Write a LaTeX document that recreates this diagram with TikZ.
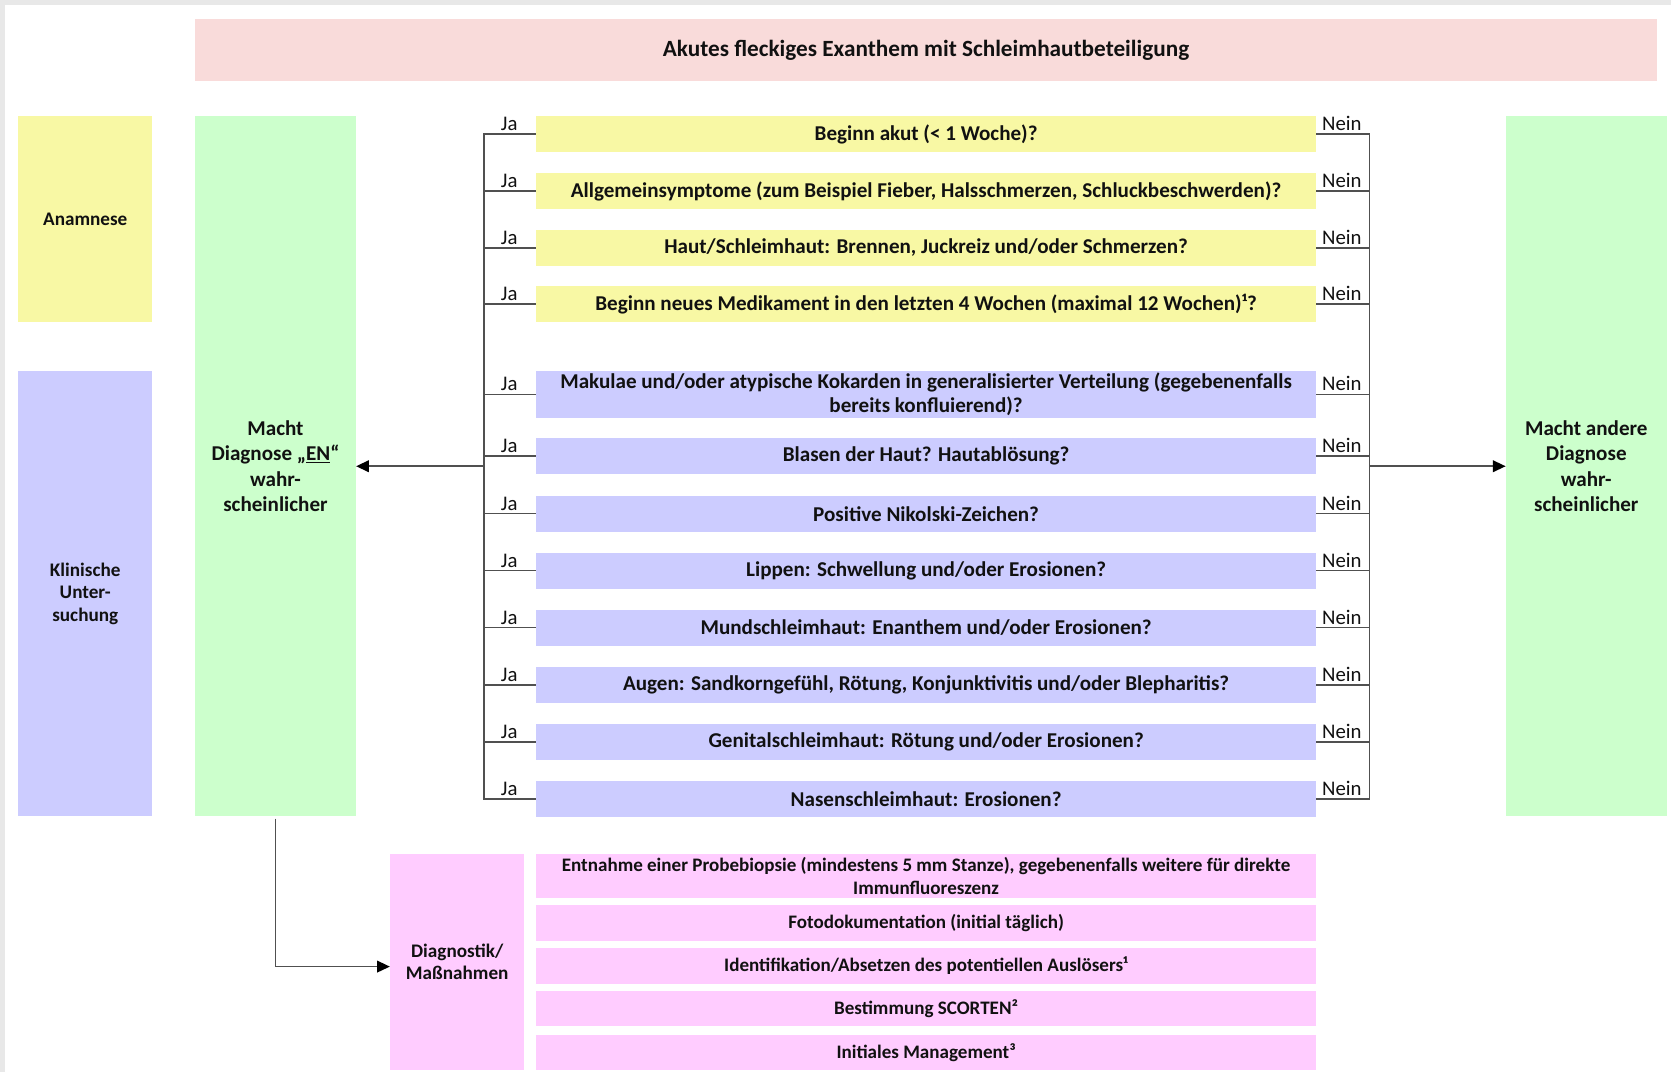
\documentclass[tikz,border=0pt]{standalone}
\usepackage{fontspec}
\setmainfont{Carlito}
\usetikzlibrary{arrows.meta}
\definecolor{titlepink}{HTML}{F9DBDA}
\definecolor{yel}{HTML}{F8F8A4}
\definecolor{blu}{HTML}{CCCCFF}
\definecolor{grn}{HTML}{CCFFCC}
\definecolor{pnk}{HTML}{FFCCFF}
\definecolor{frame}{HTML}{E8E8E8}
\definecolor{linegray}{HTML}{505050}
\definecolor{txt}{HTML}{111111}
\begin{document}
\begin{tikzpicture}[x=1pt,y=-1pt,
  box/.style={rectangle, inner sep=0pt, align=center, text=txt},
  qbox/.style={box, minimum width=732pt, minimum height=34pt, font=\fontsize{19.8}{23}\selectfont\bfseries},
  pbox/.style={box, fill=pnk, minimum width=732pt, minimum height=33pt, font=\fontsize{17.9}{21}\selectfont\bfseries},
  sidebox/.style={box, minimum width=126pt, font=\fontsize{18}{21}\selectfont\bfseries},
  resbox/.style={box, fill=grn, minimum width=151pt, minimum height=657pt, font=\fontsize{19.8}{24}\selectfont\bfseries},
  conn/.style={draw=linegray, line width=1.5pt},
  arr/.style={conn, -{Triangle[length=12pt,width=11pt,color=black]}},
  lab/.style={inner sep=0pt, text=txt, font=\fontsize{19.5}{22}\selectfont}
]
\useasboundingbox (0,0) rectangle (1568,1006);
\fill[white] (0,0) rectangle (1568,1006);
\fill[frame] (0,0) rectangle (1568,5);
\fill[frame] (0,0) rectangle (5,1006);

% title
\node[box, fill=titlepink, minimum width=1372pt, minimum height=58pt,
  font=\fontsize{21.8}{25}\selectfont\bfseries] (title) at (869,47)
  {Akutes fleckiges Exanthem mit Schleimhautbeteiligung};

% side boxes
\node[sidebox, fill=yel, minimum height=193pt] (anam) at (80,205.5) {Anamnese};
\node[sidebox, fill=blu, minimum height=418pt] (klin) at (80,557) {Klinische\\Unter-\\suchung};
\node[resbox] (gl) at (258.5,437.5) {Macht\\Diagnose „\underline{EN}“\\wahr-\\scheinlicher};
\node[resbox] (gr) at (1488.5,437.5) {Macht andere\\Diagnose\\wahr-\\scheinlicher};

% questions
\node[qbox, fill=yel] (q1) at (869,126) {Beginn akut (< 1 Woche)?};
\node[qbox, fill=yel] (q2) at (869,179.5) {Allgemeinsymptome (zum Beispiel Fieber, Halsschmerzen, Schluckbeschwerden)?};
\node[qbox, fill=yel] (q3) at (869,232.5) {Haut/Schleimhaut: Brennen, Juckreiz und/oder Schmerzen?};
\node[qbox, fill=yel] (q4) at (869,285.5) {Beginn neues Medikament in den letzten 4 Wochen (maximal 12 Wochen)¹?};
\node[qbox, fill=blu, minimum height=44pt, font=\fontsize{19.8}{23}\selectfont\bfseries] (q5) at (869,370)
  {Makulae und/oder atypische Kokarden in generalisierter Verteilung (gegebenenfalls\\bereits konfluierend)?};
\node[qbox, fill=blu] (q6) at (869,428) {Blasen der Haut? Hautablösung?};
\node[qbox, fill=blu] (q7) at (869,482) {Positive Nikolski-Zeichen?};
\node[qbox, fill=blu] (q8) at (869,535.5) {Lippen: Schwellung und/oder Erosionen?};
\node[qbox, fill=blu] (q9) at (869,589) {Mundschleimhaut: Enanthem und/oder Erosionen?};
\node[qbox, fill=blu] (q10) at (869,642.5) {Augen: Sandkorngefühl, Rötung, Konjunktivitis und/oder Blepharitis?};
\node[qbox, fill=blu] (q11) at (869,696) {Genitalschleimhaut: Rötung und/oder Erosionen?};
\node[qbox, fill=blu] (q12) at (869,749.5) {Nasenschleimhaut: Erosionen?};

% bracket columns
\coordinate (jx) at (454,0);
\coordinate (nx) at (1285,0);

\draw[conn] (q1.west) -- (q1.west -| jx) -- (q12.west -| jx) -- (q12.west);
\draw[conn] (q1.east) -- (q1.east -| nx) -- (q12.east -| nx) -- (q12.east);
\foreach \i in {2,...,11} {
  \draw[conn] (q\i.west) -- (q\i.west -| jx);
  \draw[conn] (q\i.east) -- (q\i.east -| nx);
}
\foreach \i in {1,...,12} {
  \node[lab, anchor=south] (ja\i) at ([xshift=-25pt, yshift=3pt]q\i.west) {Ja};
  \node[lab, anchor=south] (nein\i) at ([xshift=24pt, yshift=3pt]q\i.east) {Nein};
}

\draw[arr] (jx |- gl.east) -- (gl.east);
\draw[arr] (nx |- gr.west) -- (gr.west);

% diagnostics
\node[sidebox, fill=pnk, minimum height=203pt] (diag) at (429,902.5) {Diagnostik/\\Maßnahmen};
\node[pbox, minimum height=42pt] (p1) at (869,822)
  {Entnahme einer Probebiopsie (mindestens 5 mm Stanze), gegebenenfalls weitere für direkte\\Immunfluoreszenz};
\node[pbox, minimum height=34pt] (p2) at (869,866) {Fotodokumentation (initial täglich)};
\node[pbox] (p3) at (869,906.5) {Identifikation/Absetzen des potentiellen Auslösers¹};
\node[pbox] (p4) at (869,946.5) {Bestimmung SCORTEN²};
\node[pbox] (p5) at (869,987.5) {Initiales Management³};

\draw[arr] ([yshift=-2pt]gl.south) |- ([yshift=-4.5pt]diag.west);
\end{tikzpicture}
\end{document}
